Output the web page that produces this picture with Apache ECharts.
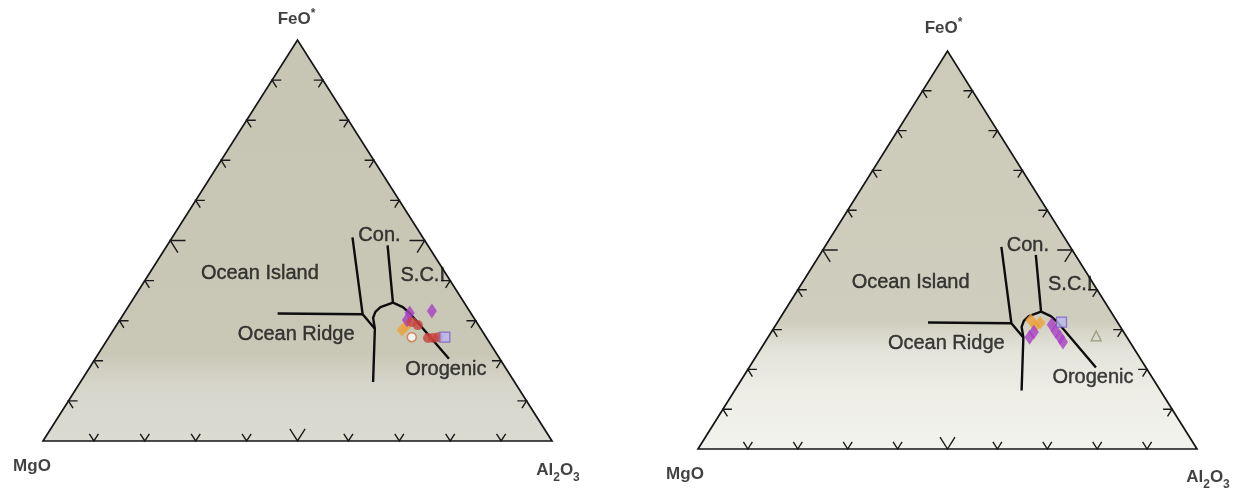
<!DOCTYPE html>
<html>
<head>
<meta charset="utf-8">
<title>MgO - FeO* - Al2O3</title>
<script src="https://cdn.jsdelivr.net/npm/echarts@6/dist/echarts.min.js"></script>
<style>
  html, body { margin: 0; padding: 0; background: #fff; }
  #main { width: 1246px; height: 491px; }
</style>
</head>
<body>
<div id="main"></div>
<script>
// every composition is [MgO, FeO*, Al2O3] in %
var vertices = [[100, 0, 0], [0, 100, 0], [0, 0, 100]];
var vertexNames = ['MgO', 'FeO*', 'Al2O3'];
var tickValues = [10, 20, 30, 40, 50, 60, 70, 80, 90];

// field boundaries (Pearce et al.)
var ridgeIslandLine = [[38.0, 31.8, 30.2], [21.4, 31.6, 47.0]];
var conLine = [[13.8, 50.8, 35.4], [21.4, 31.6, 47.0], [20.8, 28.0, 51.2], [27.8, 14.7, 57.5]];
var kinkCurve = [[20.8, 28.0, 51.2], [19.8, 30.7, 49.5], [18.6, 32.2, 49.2], [17.0, 33.4, 49.6], [14.0, 34.5, 51.5]];
var sciLine = [[7.9, 48.8, 43.3], [14.0, 34.5, 51.5]];
var orogenicLine = [[14.0, 34.5, 51.5], [12.6, 33.4, 54.0], [12.0, 31.8, 56.2], [10.0, 20.5, 69.5]];

var fieldNames = ['Ocean Island', 'Ocean Ridge', 'Con.', 'S.C.I', 'Orogenic'];
var fieldPositions = [[36.5, 41.8, 21.7], [37.0, 26.5, 36.5], [8.3, 51.2, 40.5], [4.7, 41.4, 53.9], [11.9, 17.9, 70.2]];

// samples, left diagram
var leftPurpleDiamonds = [[12.0, 31.9, 56.1], [13.4, 30.2, 56.4], [7.4, 32.4, 60.2]];
var leftOrangeDiamonds = [[15.6, 27.7, 56.7], [14.3, 28.7, 57.0]];
var leftRedCircles = [[12.7, 29.7, 57.6], [11.9, 28.9, 59.2], [11.5, 25.7, 62.8], [10.5, 25.7, 63.8], [9.4, 25.9, 64.7]];
var leftOpenCircles = [[14.6, 25.9, 59.5]];
var leftLavenderSquares = [[8.1, 25.9, 66.0]];

// samples, right diagram
var rightOrangeDiamonds = [[17.1, 32.4, 50.5], [16.9, 30.9, 52.2], [15.6, 31.7, 52.7]];
var rightPurpleDiamonds = [[19.5, 28.1, 52.4], [18.0, 29.4, 52.6], [13.5, 31.2, 55.3], [13.5, 29.6, 56.9], [13.4, 28.1, 58.5], [13.4, 26.9, 59.7]];
var rightBlueSquares = [[11.2, 31.9, 56.9]];
var rightOpenTriangles = [[6.0, 28.4, 65.6]];

function toXY(c) {
  var s = c[0] + c[1] + c[2];
  var fe = c[1] / s, al = c[2] / s;
  return [al + fe / 2, fe];
}

var markerStyles = {
  purpleDiamond: { symbol: 'diamond', symbolSize: [10, 15], itemStyle: { color: '#a73fc6' } },
  orangeDiamond: { symbol: 'diamond', symbolSize: [11, 13], itemStyle: { color: '#eba23a' } },
  redCircle: { symbol: 'circle', symbolSize: 10, itemStyle: { color: '#c9423d' } },
  openCircle: { symbol: 'circle', symbolSize: 9, itemStyle: { color: '#fff', borderColor: '#d06a3a', borderWidth: 1.5 } },
  lavenderSquare: { symbol: 'rect', symbolSize: 10, itemStyle: { color: '#b9b6ee', borderColor: '#7a5cc4', borderWidth: 1.2 } },
  openTriangle: { symbol: 'triangle', symbolSize: 10, itemStyle: { color: 'rgba(0,0,0,0)', borderColor: '#8a8b6c', borderWidth: 1.3 } }
};

var panels = [
  {
    grid: { left: 43, top: 40, width: 509, height: 401 },
    fill: [
      { offset: 0, color: '#c7c5b3' }, { offset: 0.78, color: '#c9c7b6' },
      { offset: 0.86, color: '#d7d6cb' }, { offset: 1, color: '#dcdbd2' }
    ],
    labelOffsets: [[-11, 25], [-1, -21], [6, 29]],
    samples: [
      ['orangeDiamond', leftOrangeDiamonds], ['purpleDiamond', leftPurpleDiamonds],
      ['redCircle', leftRedCircles], ['openCircle', leftOpenCircles], ['lavenderSquare', leftLavenderSquares]
    ]
  },
  {
    grid: { left: 698, top: 51, width: 499, height: 398 },
    fill: [
      { offset: 0, color: '#cccbba' }, { offset: 0.68, color: '#cfcebe' },
      { offset: 0.75, color: '#e4e3da' }, { offset: 0.86, color: '#eeeee7' }, { offset: 1, color: '#f3f3ee' }
    ],
    labelOffsets: [[-13, 25], [-4, -23], [11, 28]],
    samples: [
      ['orangeDiamond', rightOrangeDiamonds], ['purpleDiamond', rightPurpleDiamonds],
      ['lavenderSquare', rightBlueSquares], ['openTriangle', rightOpenTriangles]
    ]
  }
];

var textFont = 'Liberation Sans';
var inkColor = '#111111';
var richStyles = {
  m: { fontSize: 17, fontWeight: 'bold', lineHeight: 20, verticalAlign: 'middle', color: inkColor, fontFamily: textFont },
  sub: { fontSize: 12, fontWeight: 'bold', lineHeight: 28, verticalAlign: 'bottom', color: inkColor, fontFamily: textFont },
  sup: { fontSize: 12, fontWeight: 'bold', lineHeight: 22, verticalAlign: 'top', color: inkColor, fontFamily: textFont }
};
function richName(n) {
  if (n === 'Al2O3') return '{m|Al}{sub|2}{m|O}{sub|3}';
  if (n === 'FeO*') return '{m|FeO}{sup|*}';
  return '{m|' + n + '}';
}

var grids = [], xAxes = [], yAxes = [], series = [];
panels.forEach(function (p, i) {
  grids.push(p.grid);
  xAxes.push({ type: 'value', gridIndex: i, min: 0, max: 1, show: false });
  yAxes.push({ type: 'value', gridIndex: i, min: 0, max: 1, show: false });
  var ax = { xAxisIndex: i, yAxisIndex: i };

  // triangle body
  series.push(Object.assign({
    type: 'custom', silent: true, z: 1,
    data: [[0.5, 0.5]],
    renderItem: function (params, api) {
      var pts = vertices.map(function (v) { return api.coord(toXY(v)); });
      return {
        type: 'polygon',
        shape: { points: pts },
        style: {
          fill: new echarts.graphic.LinearGradient(0, 0, 0, 1, p.fill),
          stroke: '#151515', lineWidth: 1.7
        }
      };
    }
  }, ax));

  // chevron ticks on the three sides
  var ticks = [];
  [0, 1, 2].forEach(function (side) {
    tickValues.forEach(function (t) { ticks.push([0.5, 0.5, side, t]); });
  });
  series.push(Object.assign({
    type: 'custom', silent: true, z: 2,
    data: ticks,
    renderItem: function (params, api) {
      var side = api.value(2), t = api.value(3);
      var d = t === 50 ? 3.0 : 1.8;
      var c, a1, a2;
      if (side === 0) { // bottom MgO - Al2O3
        c = [100 - t, 0, t]; a1 = [100 - t - d, d, t]; a2 = [100 - t, d, t - d];
      } else if (side === 1) { // left MgO - FeO*
        c = [100 - t, t, 0]; a1 = [100 - t - d, t, d]; a2 = [100 - t, t - d, d];
      } else { // right FeO* - Al2O3
        c = [0, t, 100 - t]; a1 = [d, t - d, 100 - t]; a2 = [d, t, 100 - t - d];
      }
      return {
        type: 'polyline',
        shape: { points: [api.coord(toXY(a1)), api.coord(toXY(c)), api.coord(toXY(a2))] },
        style: { stroke: '#1a1a1a', lineWidth: 1.4, fill: null }
      };
    }
  }, ax));

  // field boundaries
  [ridgeIslandLine, conLine, kinkCurve, sciLine, orogenicLine].forEach(function (ln) {
    series.push(Object.assign({
      type: 'line', z: 3, silent: true,
      data: ln.map(toXY),
      showSymbol: false, symbol: 'none',
      lineStyle: { color: '#0d0d0d', width: 2.4 }
    }, ax));
  });

  // field names
  series.push(Object.assign({
    type: 'scatter', z: 4, silent: true, clip: false,
    symbolSize: 0,
    data: fieldNames.map(function (n, k) { return { name: n, value: toXY(fieldPositions[k]) }; }),
    label: {
      show: true, position: 'inside', formatter: '{b}',
      fontFamily: textFont, fontSize: 20, color: inkColor,
      textBorderColor: inkColor, textBorderWidth: 0.4
    }
  }, ax));

  // samples
  p.samples.forEach(function (s) {
    var st = markerStyles[s[0]];
    series.push(Object.assign({
      type: 'scatter', z: 5, clip: false,
      symbol: st.symbol, symbolSize: st.symbolSize, itemStyle: st.itemStyle,
      data: s[1].map(toXY)
    }, ax));
  });

  // corner names
  series.push(Object.assign({
    type: 'scatter', z: 6, silent: true, clip: false,
    symbolSize: 0,
    data: vertexNames.map(function (n, k) {
      return { name: n, value: toXY(vertices[k]), label: { offset: p.labelOffsets[k] } };
    }),
    label: {
      show: true, position: 'inside', color: inkColor, textBorderWidth: 0,
      formatter: function (prm) { return richName(prm.name); },
      rich: richStyles
    }
  }, ax));
});

var myChart = echarts.init(document.getElementById('main'));
myChart.setOption({
  animation: false,
  backgroundColor: '#ffffff',
  grid: grids,
  xAxis: xAxes,
  yAxis: yAxes,
  series: series
});
</script>
</body>
</html>
